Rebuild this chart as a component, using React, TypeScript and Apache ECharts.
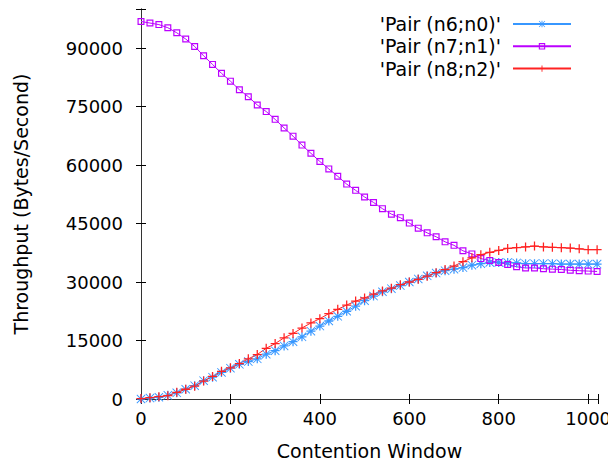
import React, { useEffect, useRef } from "react";
import * as echarts from "echarts";

// x positions (contention window)
const windowSizes: number[] = [
  0, 20, 40, 60, 80, 100, 120, 140, 160, 180, 200, 220, 240, 260, 280, 300, 320, 340,
  360, 380, 400, 420, 440, 460, 480, 500, 520, 540, 560, 580, 600, 620, 640, 660, 680,
  700, 720, 740, 760, 780, 800, 820, 840, 860, 880, 900, 920, 940, 960, 980, 1000, 1020,
];

const seriesNames = ["'Pair (n6;n0)'", "'Pair (n7;n1)'", "'Pair (n8;n2)'"];

const pairN6N0: number[] = [
  0, 250, 450, 950, 1600, 2500, 3400, 4700, 5600, 6800, 7900, 8900, 9600, 10300, 11500,
  12400, 13600, 14700, 15950, 17400, 18700, 20000, 21200, 22500, 23800, 25200, 26400,
  27500, 28300, 29100, 30000, 30800, 31600, 32300, 32900, 33300, 33700, 34300, 34700,
  35000, 35000, 35000, 34900, 34700, 34700, 34700, 34700, 34600, 34600, 34600, 34600, 34600,
];

const pairN7N1: number[] = [
  96800, 96400, 96000, 95200, 93900, 92300, 90400, 88000, 85800, 83500, 81500, 79300,
  77500, 75400, 73700, 71700, 69500, 67400, 65100, 63000, 60900, 59000, 57100, 55100,
  53500, 51800, 50400, 48800, 47400, 46500, 45100, 43800, 42600, 41600, 40300, 39400,
  38000, 37200, 36000, 35500, 35000, 34500, 33900, 33600, 33600, 33400, 33300, 33200,
  33000, 32900, 32800, 32700,
];

const pairN8N2: number[] = [
  100, 330, 600, 850, 1700, 2500, 3300, 4600, 5800, 7100, 8000, 9100, 10300, 11400, 13000,
  14200, 15700, 16800, 18200, 19500, 20600, 21900, 23000, 24100, 25100, 25900, 26900,
  27700, 28400, 29300, 30000, 30700, 31500, 32400, 33200, 34100, 35200, 36200, 37000,
  37600, 38100, 38600, 38800, 39000, 39200, 39000, 38900, 38800, 38700, 38500, 38300, 38300,
];

const xTickStep = 200;
const yTickStep = 15000;

const FONT = "DejaVu Sans";

const SYM_STAR =
  "path://M0,4.3L10,4.3L10,5.7L0,5.7Z M4.3,0L5.7,0L5.7,10L4.3,10Z M0.7,0L10,9.3L9.3,10L0,0.7Z M9.3,0L10,0.7L0.7,10L0,9.3Z";
const SYM_SQUARE = "path://M0,0L10,0L10,10L0,10Z M1.7,1.7L1.7,8.3L8.3,8.3L8.3,1.7Z";
const SYM_PLUS = "path://M0,4.3L10,4.3L10,5.7L0,5.7Z M4.3,0L5.7,0L5.7,10L4.3,10Z";

export default function App() {
  const ref = useRef<HTMLDivElement>(null);

  useEffect(() => {
    if (!ref.current) return;
    const chart = echarts.init(ref.current, undefined, { renderer: "svg" });

    const toPairs = (vals: number[]) => windowSizes.map((x, i) => [x, vals[i]]);

    const axisLineStyle = { color: "#333", width: 1 };
    const tickStyle = { color: "#000", width: 1 };

    const makeSeries = (name: string, vals: number[], color: string, symbol: string, size: number) => ({
      name,
      type: "line",
      data: toPairs(vals),
      symbol,
      symbolSize: size,
      showSymbol: true,
      lineStyle: { color, width: 1 },
      itemStyle: { color },
      emphasis: { disabled: true },
    });

    chart.setOption({
      animation: false,
      backgroundColor: "#fff",
      grid: {
        left: 141,
        right: 10,
        top: 9,
        bottom: 64,
        containLabel: false,
        outerBoundsMode: "none",
      },
      legend: {
        orient: "vertical",
        right: 36,
        top: 14.5,
        padding: 0,
        align: "right",
        itemWidth: 58,
        itemHeight: 8,
        itemGap: 3.3,
        selectedMode: false,
        textStyle: {
          fontFamily: FONT,
          fontSize: 19,
          lineHeight: 19,
          color: "#000",
          padding: [0, 7, 0, 0],
        },
        data: seriesNames,
      },
      xAxis: [
        {
          type: "value",
          min: 0,
          max: 1022,
          interval: xTickStep,
          name: "Contention Window",
          nameLocation: "middle",
          nameGap: 42.5,
          nameTextStyle: { fontFamily: FONT, fontSize: 19, color: "#000" },
          axisLine: { show: true, lineStyle: axisLineStyle },
          axisTick: { show: true, inside: true, length: 5, lineStyle: tickStyle },
          axisLabel: {
            fontFamily: FONT,
            fontSize: 18,
            color: "#000",
            margin: 10,
            formatter: (v: number) => (v % xTickStep === 0 ? String(v) : ""),
          },
          splitLine: { show: false },
        },
        {
          type: "value",
          position: "top",
          min: 0,
          max: 1022,
          interval: xTickStep,
          axisLine: { show: true, lineStyle: axisLineStyle },
          axisTick: { show: true, inside: true, length: 5, lineStyle: tickStyle },
          axisLabel: { show: false },
          splitLine: { show: false },
        },
      ],
      yAxis: [
        {
          type: "value",
          min: 0,
          max: 100000,
          interval: yTickStep,
          name: "Throughput (Bytes/Second)",
          nameLocation: "middle",
          nameGap: 110.5,
          nameTextStyle: { fontFamily: FONT, fontSize: 19, color: "#000" },
          axisLine: { show: true, lineStyle: axisLineStyle },
          axisTick: { show: true, inside: true, length: 5, lineStyle: tickStyle },
          axisLabel: {
            fontFamily: FONT,
            fontSize: 18,
            color: "#000",
            margin: 18,
            padding: [0, 0, 5, 0],
            formatter: (v: number) => (v % yTickStep === 0 ? String(v) : ""),
          },
          splitLine: { show: false },
        },
        {
          type: "value",
          position: "right",
          min: 0,
          max: 100000,
          interval: yTickStep,
          axisLine: { show: true, lineStyle: axisLineStyle },
          axisTick: { show: true, inside: true, length: 5, lineStyle: tickStyle },
          axisLabel: { show: false },
          splitLine: { show: false },
        },
      ],
      series: [
        makeSeries(seriesNames[0], pairN6N0, "#3797ff", SYM_STAR, 9),
        makeSeries(seriesNames[1], pairN7N1, "#bb00ff", SYM_SQUARE, 7),
        makeSeries(seriesNames[2], pairN8N2, "#ff2222", SYM_PLUS, 9),
      ],
    });

    return () => chart.dispose();
  }, []);

  return <div ref={ref} style={{ width: 608, height: 463, position: "absolute", left: 0, top: 0 }} />;
}
